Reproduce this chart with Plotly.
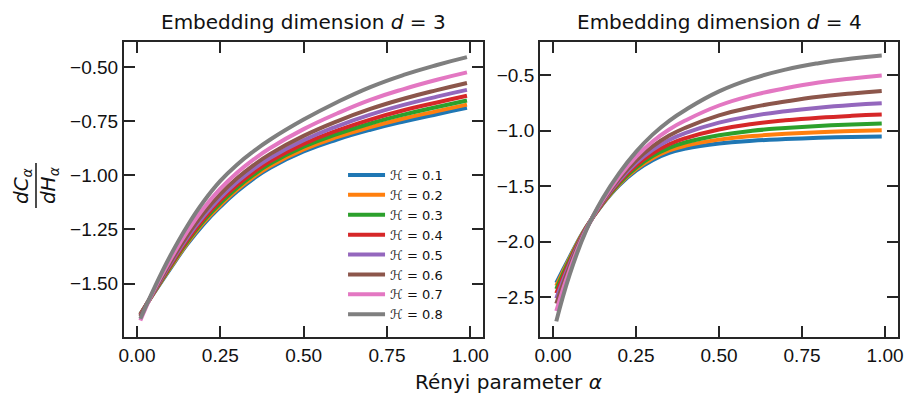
import plotly.graph_objects as go

alpha = [0.01, 0.05, 0.1, 0.15, 0.2, 0.25, 0.3, 0.35, 0.4, 0.5, 0.6, 0.7, 0.8, 0.9, 0.99]
hurst_labels = ["0.1", "0.2", "0.3", "0.4", "0.5", "0.6", "0.7", "0.8"]
colors = ["#1f77b4", "#ff7f0e", "#2ca02c", "#d62728", "#9467bd", "#8c564b", "#e377c2", "#7f7f7f"]

# Embedding dimension d = 3
h01_d3 = [-1.640, -1.545, -1.430, -1.320, -1.225, -1.145, -1.075, -1.015, -0.965, -0.890, -0.835, -0.790, -0.752, -0.718, -0.689]
h02_d3 = [-1.641, -1.544, -1.426, -1.315, -1.218, -1.138, -1.067, -1.007, -0.957, -0.881, -0.824, -0.778, -0.738, -0.704, -0.674]
h03_d3 = [-1.643, -1.542, -1.421, -1.308, -1.210, -1.128, -1.057, -0.997, -0.946, -0.868, -0.810, -0.761, -0.720, -0.685, -0.655]
h04_d3 = [-1.645, -1.540, -1.416, -1.300, -1.200, -1.116, -1.045, -0.985, -0.934, -0.855, -0.794, -0.743, -0.700, -0.664, -0.633]
h05_d3 = [-1.648, -1.538, -1.409, -1.290, -1.188, -1.103, -1.031, -0.970, -0.919, -0.838, -0.774, -0.720, -0.675, -0.637, -0.606]
h06_d3 = [-1.651, -1.536, -1.401, -1.279, -1.174, -1.087, -1.014, -0.953, -0.901, -0.818, -0.751, -0.694, -0.647, -0.607, -0.574]
h07_d3 = [-1.670, -1.532, -1.389, -1.261, -1.152, -1.062, -0.988, -0.927, -0.874, -0.787, -0.715, -0.652, -0.602, -0.559, -0.525]
h08_d3 = [-1.662, -1.526, -1.371, -1.236, -1.121, -1.026, -0.951, -0.889, -0.835, -0.743, -0.663, -0.593, -0.537, -0.491, -0.455]

# Embedding dimension d = 4
h01_d4 = [-2.373, -2.140, -1.870, -1.660, -1.490, -1.360, -1.265, -1.200, -1.160, -1.115, -1.090, -1.075, -1.064, -1.056, -1.051]
h02_d4 = [-2.399, -2.152, -1.872, -1.656, -1.482, -1.347, -1.248, -1.178, -1.134, -1.080, -1.048, -1.028, -1.013, -1.003, -0.996]
h03_d4 = [-2.429, -2.166, -1.875, -1.652, -1.472, -1.333, -1.228, -1.154, -1.104, -1.040, -1.000, -0.975, -0.956, -0.943, -0.934]
h04_d4 = [-2.467, -2.183, -1.878, -1.647, -1.460, -1.314, -1.203, -1.122, -1.066, -0.988, -0.939, -0.906, -0.882, -0.865, -0.854]
h05_d4 = [-2.512, -2.204, -1.882, -1.640, -1.446, -1.292, -1.173, -1.084, -1.020, -0.927, -0.866, -0.824, -0.792, -0.768, -0.752]
h06_d4 = [-2.560, -2.226, -1.886, -1.633, -1.431, -1.268, -1.141, -1.043, -0.971, -0.861, -0.788, -0.736, -0.693, -0.664, -0.642]
h07_d4 = [-2.626, -2.257, -1.892, -1.624, -1.410, -1.236, -1.097, -0.988, -0.905, -0.772, -0.681, -0.617, -0.565, -0.528, -0.502]
h08_d4 = [-2.720, -2.300, -1.900, -1.610, -1.380, -1.190, -1.035, -0.910, -0.810, -0.645, -0.530, -0.448, -0.390, -0.348, -0.321]

x_ticks = [0, 0.25, 0.5, 0.75, 1.0]
y_ticks_d3 = [-0.5, -0.75, -1.0, -1.25, -1.5]
y_ticks_d4 = [-0.5, -1.0, -1.5, -2.0, -2.5]

series_d3 = [h01_d3, h02_d3, h03_d3, h04_d3, h05_d3, h06_d3, h07_d3, h08_d3]
series_d4 = [h01_d4, h02_d4, h03_d4, h04_d4, h05_d4, h06_d4, h07_d4, h08_d4]

fig = go.Figure()
for lab, col, ys in zip(hurst_labels, colors, series_d3):
    fig.add_trace(go.Scatter(x=alpha, y=ys, mode="lines", name="ℋ = " + lab,
                             line=dict(color=col, width=4, shape="spline", smoothing=1.3),
                             xaxis="x", yaxis="y", showlegend=True))
for lab, col, ys in zip(hurst_labels, colors, series_d4):
    fig.add_trace(go.Scatter(x=alpha, y=ys, mode="lines", name="ℋ = " + lab,
                             line=dict(color=col, width=4, shape="spline", smoothing=1.3),
                             xaxis="x2", yaxis="y2", showlegend=False))

axis_common = dict(showline=True, linewidth=2, linecolor="#262626", mirror="allticks",
                   ticks="inside", ticklen=11, tickwidth=2, tickcolor="#262626",
                   showgrid=False, zeroline=False, automargin=False,
                   tickfont=dict(family="Liberation Sans, Arial, sans-serif", size=19, color="#111"))

fig.update_layout(
    width=905, height=394,
    margin=dict(l=124, r=7, t=42, b=57, autoexpand=False),
    paper_bgcolor="white", plot_bgcolor="white",
    font=dict(family="DejaVu Sans", color="#111"),
    xaxis=dict(domain=[0, 0.4642], range=[-0.039, 1.039], tickvals=x_ticks, tickformat=".2f",
               anchor="y", **axis_common),
    yaxis=dict(domain=[0, 1], range=[-1.746, -0.385], tickvals=y_ticks_d3, tickformat=".2f",
               anchor="x", **axis_common),
    xaxis2=dict(domain=[0.5375, 1], range=[-0.039, 1.039], tickvals=x_ticks, tickformat=".2f",
                anchor="y2", **axis_common),
    yaxis2=dict(domain=[0, 1], range=[-2.861, -0.199], tickvals=y_ticks_d4, tickformat=".1f",
                anchor="x2", **axis_common),
    legend=dict(x=0.283, y=0.6, xanchor="left", yanchor="top", bgcolor="rgba(0,0,0,0)",
                font=dict(family="DejaVu Sans", size=13, color="#111"),
                tracegroupgap=0, itemwidth=37),
    showlegend=True,
)

ann_font = dict(family="DejaVu Sans", size=20, color="#111")
fig.add_annotation(text="Embedding dimension <i>d</i> = 3", xref="paper", yref="paper",
                   x=0.2321, y=1, xanchor="center", yanchor="bottom", yshift=6,
                   showarrow=False, font=ann_font)
fig.add_annotation(text="Embedding dimension <i>d</i> = 4", xref="paper", yref="paper",
                   x=0.7688, y=1, xanchor="center", yanchor="bottom", yshift=6,
                   showarrow=False, font=ann_font)
fig.add_annotation(text="Rényi parameter <i>α</i>", xref="paper", yref="paper",
                   x=0.497, y=0, xanchor="center", yanchor="middle", yshift=-45,
                   showarrow=False, font=ann_font)

# y-axis label as a rotated fraction
fig.add_annotation(text="<i>dC</i><sub><i>α</i></sub>", xref="paper", yref="paper",
                   x=-0.1318, y=0.515, xanchor="center", yanchor="middle", textangle=-90,
                   showarrow=False, font=ann_font)
fig.add_annotation(text="<i>dH</i><sub><i>α</i></sub>", xref="paper", yref="paper",
                   x=-0.0969, y=0.515, xanchor="center", yanchor="middle", textangle=-90,
                   showarrow=False, font=ann_font)
fig.add_shape(type="line", xref="paper", yref="paper", x0=-0.1137, x1=-0.1137, y0=0.437, y1=0.59,
              line=dict(color="#111", width=1.5))

fig.write_html("out.html", config={"displayModeBar": False},
               post_script="document.body.style.margin='0';")
